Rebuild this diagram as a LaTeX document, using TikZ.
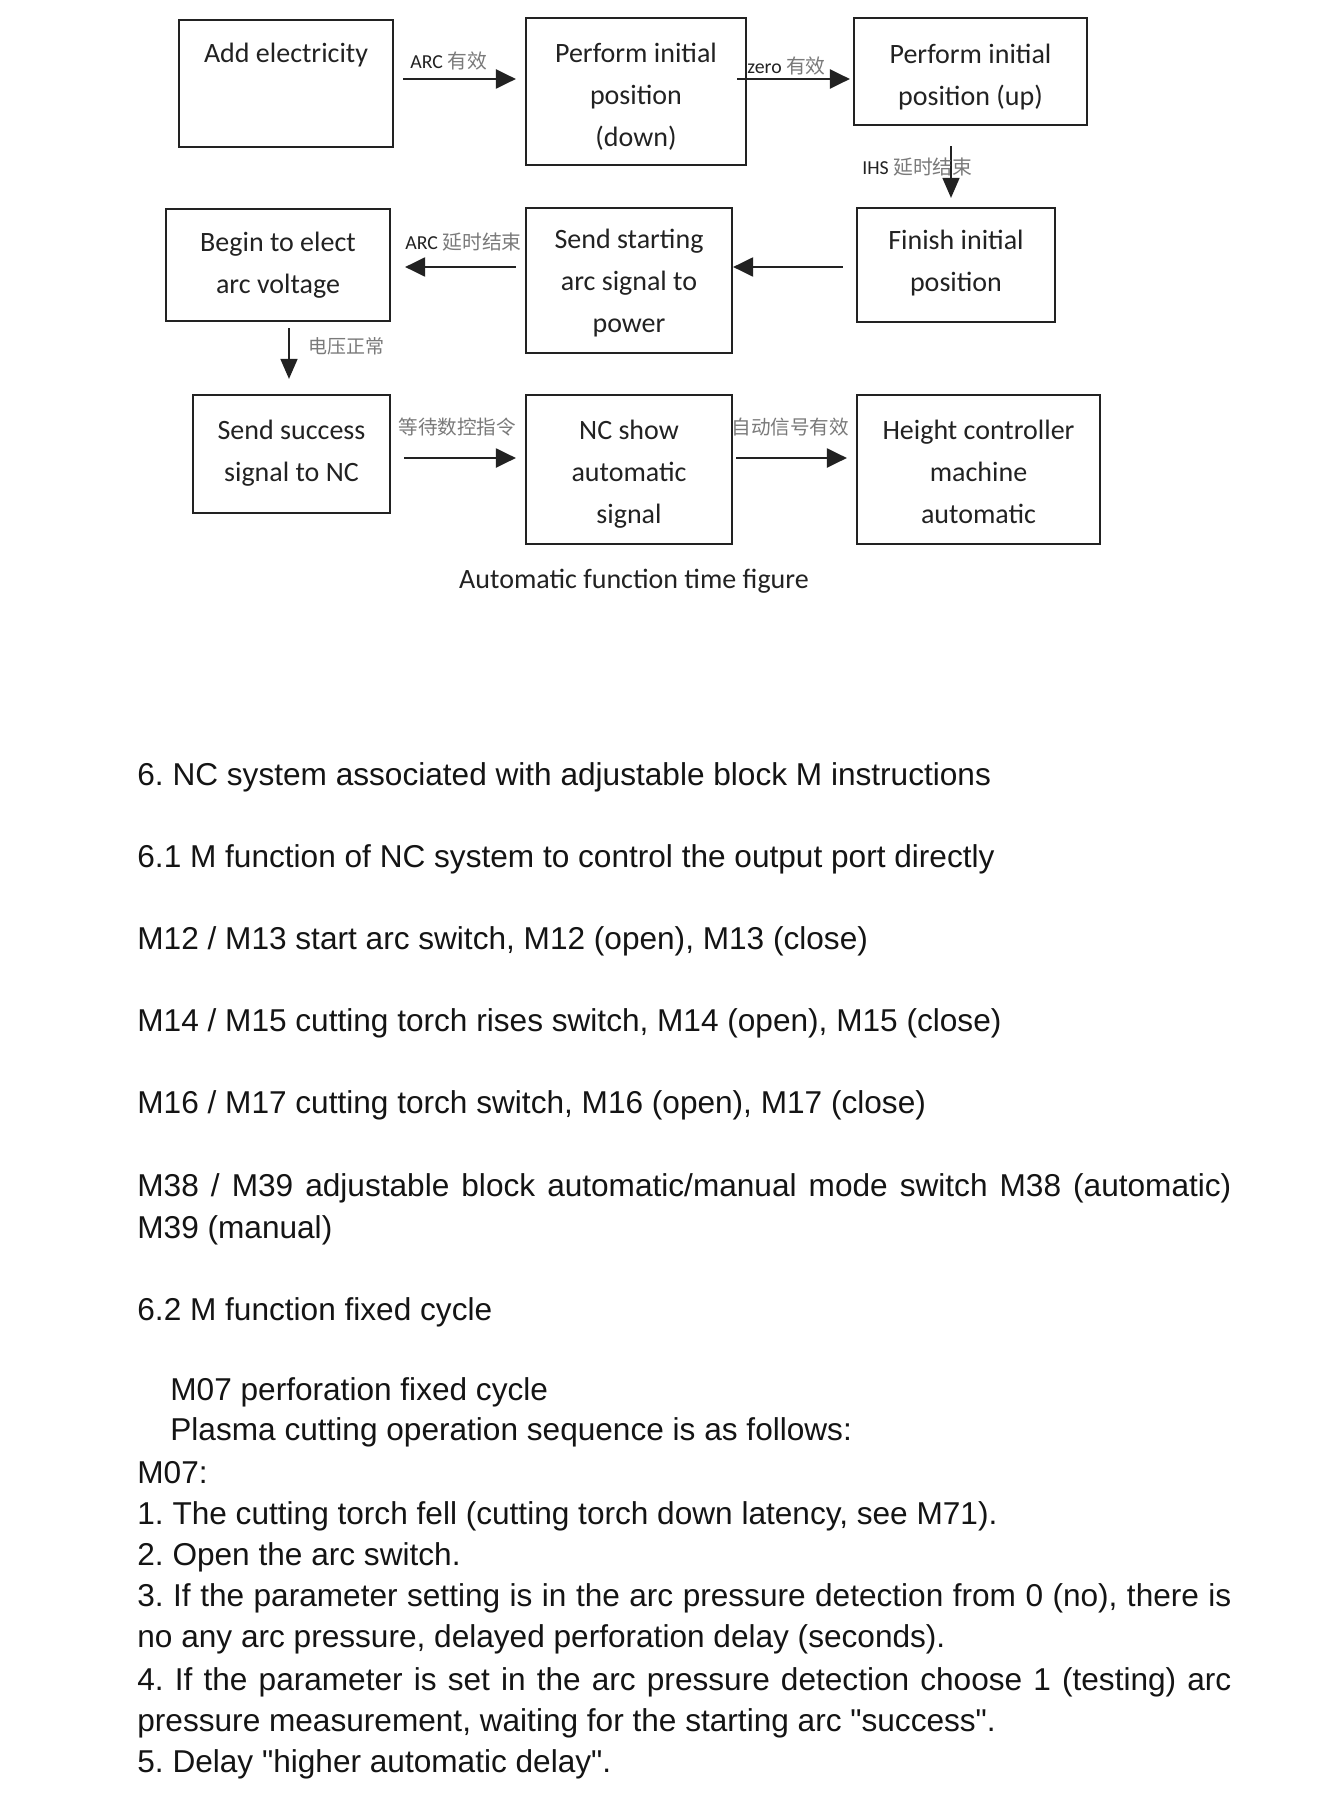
\documentclass[tikz,border=0pt]{standalone}
\usepackage{fontspec}
\setmainfont{Liberation Sans}
\newfontfamily\qfont{Liberation Sans}[Ligatures=TeXOff]
\newfontfamily\diagfont{Carlito}
\newfontfamily\cjkfont{Noto Sans CJK SC}
\usetikzlibrary{arrows.meta}
\definecolor{ink}{HTML}{222222}
\definecolor{lbl}{HTML}{7A7A7A}
\newcommand{\lb}[1]{\textcolor{lbl}{\cjkfont #1}}
\newcommand{\dq}{{\qfont\char34}}
\frenchspacing
\begin{document}
\begin{tikzpicture}[x=0.5pt,y=-0.5pt,
  box/.style={draw=ink, line width=1.1pt, inner sep=0pt, align=center,
    font=\diagfont\fontsize{14}{21}\selectfont, text=ink},
  arr/.style={-{Triangle[length=10pt,width=9.5pt]}, line width=1.1pt, draw=ink},
  varr/.style={-{Triangle[length=10pt,width=8.5pt]}, line width=0.8pt, draw=ink},
  lab/.style={anchor=west, inner sep=0pt, text=ink, font=\diagfont\fontsize{9.9}{9.9}\selectfont},
  body/.style={anchor=base west, inner sep=0pt, text=black!92, font=\fontsize{15.8}{18}\selectfont}]
\useasboundingbox[fill=white] (0,0) rectangle (1329,1809);

% ---- boxes
\node[box, minimum width=107pt, minimum height=63.5pt, text height=21.5pt, text depth=42pt] (b1) at (286,83.5) {Add electricity};
\node[box, minimum width=110pt, minimum height=73.5pt, text height=64.35pt, text depth=9.15pt] (b2) at (636,91.5) {Perform initial\\position\\(down)};
\node[box, minimum width=116.5pt, minimum height=53.5pt, text height=43.55pt, text depth=9.95pt] (b3) at (970.5,71.5) {Perform initial\\position (up)};
\node[box, minimum width=112pt, minimum height=56pt, text height=42.2pt, text depth=13.8pt] (b4) at (278,265) {Begin to elect\\arc voltage};
\node[box, minimum width=103pt, minimum height=72.5pt, text height=62.3pt, text depth=10.2pt] (b5) at (629,280.5) {Send starting\\arc signal to\\power};
\node[box, minimum width=99pt, minimum height=57pt, text height=41.55pt, text depth=15.45pt] (b6) at (956,265) {Finish initial\\position};
\node[box, minimum width=98.5pt, minimum height=59pt, text height=43.3pt, text depth=15.7pt] (b7) at (291.5,454) {Send success\\signal to NC};
\node[box, minimum width=103pt, minimum height=74.5pt, text height=64.1pt, text depth=10.4pt] (b8) at (629,469.5) {NC show\\automatic\\signal};
\node[box, minimum width=121.5pt, minimum height=74.5pt, text height=64.1pt, text depth=10.4pt] (b9) at (978.5,469.5) {Height controller\\machine\\automatic};

% ---- helper coordinates
\coordinate (ya) at (0,79);
\coordinate (yb) at (0,267);
\coordinate (yc) at (0,458);
\coordinate (xa) at (951,0);
\coordinate (xb) at (289,0);

% ---- connectors
\draw[arr, shorten <=4.5pt, shorten >=4.5pt] (b1.east |- ya) -- (b2.west |- ya);
\draw[arr, shorten <=-5pt, shorten >=1.5pt] (b2.east |- ya) -- (b3.west |- ya);
\draw[varr, shorten <=10pt, shorten >=4.5pt] (b3.south -| xa) -- (b6.north -| xa);
\draw[arr, shorten <=6.5pt, shorten >=0pt] (b6.west |- yb) -- (b5.east |- yb);
\draw[arr, shorten <=4.5pt, shorten >=7pt] (b5.west |- yb) -- (b4.east |- yb);
\draw[varr, shorten <=3pt, shorten >=7.5pt] (b4.south -| xb) -- (b7.north -| xb);
\draw[arr, shorten <=6.5pt, shorten >=4.5pt] (b7.east |- yc) -- (b8.west |- yc);
\draw[arr, shorten <=1.5pt, shorten >=4.5pt] (b8.east |- yc) -- (b9.west |- yc);

% ---- connector labels
\node[lab] (l1) at (410,61) {ARC \lb{有效}};
\node[lab] (l2) at (747,66) {zero \lb{有效}};
\node[lab] (l3) at (862,167) {IHS \lb{延时结束}};
\node[lab] (l4) at (405,242) {ARC \lb{延时结束}};
\node[lab, font=\fontsize{9.5}{9.5}\selectfont] (l5) at (308,346) {\lb{电压正常}};
\node[lab, font=\fontsize{9.8}{9.8}\selectfont] (l6) at (398,427) {\lb{等待数控指令}};
\node[lab, font=\fontsize{9.8}{9.8}\selectfont] (l7) at (731,427) {\lb{自动信号有效}};

\node[inner sep=0pt, text=ink, font=\diagfont\fontsize{14}{14}\selectfont] (cap) at (634,581) {Automatic function time figure};

% ---- body text
\node[body] (t1) at (137,785) {6. NC system associated with adjustable block M instructions};
\node[body] (t2) at (137,867) {6.1 M function of NC system to control the output port directly};
\node[body] (t3) at (137,949) {M12 / M13 start arc switch, M12 (open), M13 (close)};
\node[body] (t4) at (137,1031) {M14 / M15 cutting torch rises switch, M14 (open), M15 (close)};
\node[body] (t5) at (137,1113) {M16 / M17 cutting torch switch, M16 (open), M17 (close)};
\node[body] (t6) at (137,1196) {\makebox[547pt][s]{M38 / M39 adjustable block automatic/manual mode switch M38 (automatic)}};
\node[body] (t7) at (137,1238) {M39 (manual)};
\node[body] (t8) at (137,1320) {6.2 M function fixed cycle};
\node[body] (t9) at (170,1400) {M07 perforation fixed cycle};
\node[body] (t10) at (170,1440) {Plasma cutting operation sequence is as follows:};
\node[body] (t11) at (137,1483) {M07:};
\node[body] (t12) at (137,1524) {1. The cutting torch fell (cutting torch down latency, see M71).};
\node[body] (t13) at (137,1565) {2. Open the arc switch.};
\node[body] (t14) at (137,1606) {\makebox[547pt][s]{3. If the parameter setting is in the arc pressure detection from 0 (no), there is}};
\node[body] (t15) at (137,1647) {no any arc pressure, delayed perforation delay (seconds).};
\node[body] (t16) at (137,1690) {\makebox[547pt][s]{4. If the parameter is set in the arc pressure detection choose 1 (testing) arc}};
\node[body] (t17) at (137,1731) {pressure measurement, waiting for the starting arc \dq success\dq.};
\node[body] (t18) at (137,1772) {5. Delay \dq higher automatic delay\dq.};
\end{tikzpicture}
\end{document}
